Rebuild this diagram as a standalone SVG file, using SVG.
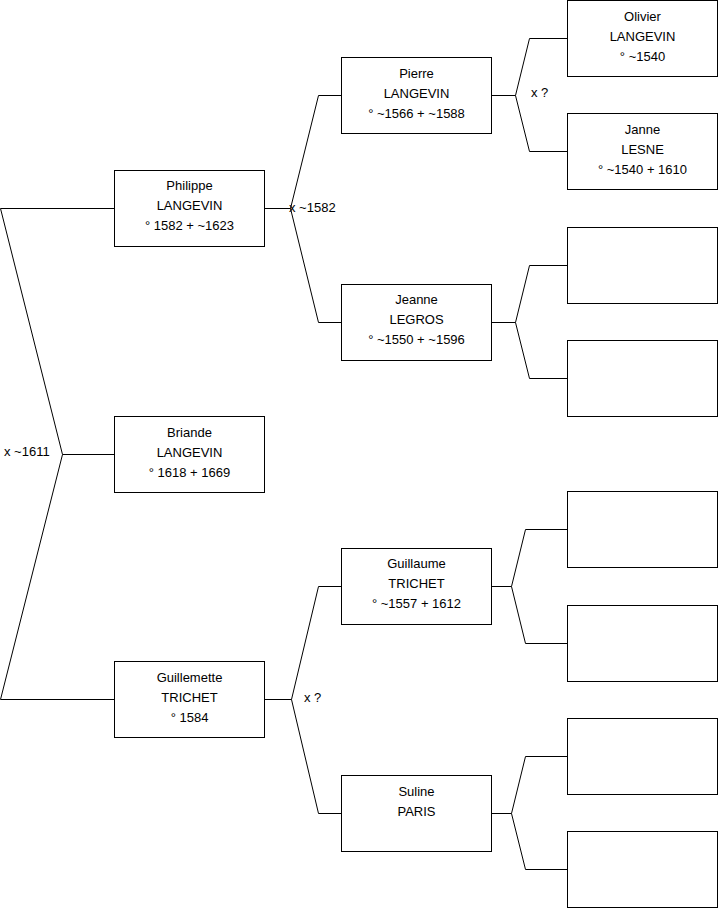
<svg xmlns="http://www.w3.org/2000/svg" width="719" height="908" viewBox="0 0 719 908">
<style>
.box{fill:#fff;stroke:#000;stroke-width:1}
.ln{fill:none;stroke:#000;stroke-width:1}
text{font-family:"Liberation Sans",Arial,sans-serif;font-size:13px;fill:#000}
.c{text-anchor:middle}
</style>
<rect width="719" height="908" fill="#fff"/>
<g id="connectors">
<polyline class="ln" points="114,208.5 0.5,208.5 62.5,454.5 0.5,699.5 114,699.5"/>
<line class="ln" x1="62.5" y1="454.5" x2="114" y2="454.5"/>
<polyline class="ln" points="341,95.5 318.5,95.5 290.5,208.5 318.5,322.5 341,322.5"/>
<line class="ln" x1="265" y1="208.5" x2="290.5" y2="208.5"/>
<polyline class="ln" points="341,586.5 318.5,586.5 291.5,699.5 318.5,813.5 341,813.5"/>
<line class="ln" x1="265" y1="699.5" x2="291.5" y2="699.5"/>
<polyline class="ln" points="567,38.5 529.5,38.5 515.5,95.5 529.5,151.5 567,151.5"/>
<line class="ln" x1="492" y1="95.5" x2="515.5" y2="95.5"/>
<polyline class="ln" points="567,265.5 529.5,265.5 515.5,322.5 529.5,378.5 567,378.5"/>
<line class="ln" x1="492" y1="322.5" x2="515.5" y2="322.5"/>
<polyline class="ln" points="567,529.5 525.5,529.5 511.5,586.5 525.5,643.5 567,643.5"/>
<line class="ln" x1="492" y1="586.5" x2="511.5" y2="586.5"/>
<polyline class="ln" points="567,756.5 525.5,756.5 511.5,813.5 525.5,869.5 567,869.5"/>
<line class="ln" x1="492" y1="813.5" x2="511.5" y2="813.5"/>
<text x="4" y="456">x ~1611</text>
<text x="289" y="212">x ~1582</text>
<text x="531" y="97">x ?</text>
<text x="304" y="702">x ?</text>
</g>
<g id="philippe"><rect class="box" x="114.5" y="170.5" width="150" height="76"/>
<text class="c" x="189.5" y="190">Philippe</text><text class="c" x="189.5" y="210">LANGEVIN</text><text class="c" x="189.5" y="230">° 1582 + ~1623</text></g>
<g id="briande"><rect class="box" x="114.5" y="416.5" width="150" height="76"/>
<text class="c" x="189.5" y="437">Briande</text><text class="c" x="189.5" y="457">LANGEVIN</text><text class="c" x="189.5" y="477">° 1618 + 1669</text></g>
<g id="guillemette"><rect class="box" x="114.5" y="661.5" width="150" height="76"/>
<text class="c" x="189.5" y="682">Guillemette</text><text class="c" x="189.5" y="702">TRICHET</text><text class="c" x="189.5" y="722">° 1584</text></g>
<g id="pierre"><rect class="box" x="341.5" y="57.5" width="150" height="76"/>
<text class="c" x="416.5" y="78">Pierre</text><text class="c" x="416.5" y="98">LANGEVIN</text><text class="c" x="416.5" y="118">° ~1566 + ~1588</text></g>
<g id="jeanne"><rect class="box" x="341.5" y="284.5" width="150" height="76"/>
<text class="c" x="416.5" y="304">Jeanne</text><text class="c" x="416.5" y="324">LEGROS</text><text class="c" x="416.5" y="344">° ~1550 + ~1596</text></g>
<g id="guillaume"><rect class="box" x="341.5" y="548.5" width="150" height="76"/>
<text class="c" x="416.5" y="568">Guillaume</text><text class="c" x="416.5" y="588">TRICHET</text><text class="c" x="416.5" y="608">° ~1557 + 1612</text></g>
<g id="suline"><rect class="box" x="341.5" y="775.5" width="150" height="76"/>
<text class="c" x="416.5" y="796">Suline</text><text class="c" x="416.5" y="816">PARIS</text></g>
<g id="olivier"><rect class="box" x="567.5" y="0.5" width="150" height="76"/>
<text class="c" x="642.5" y="21">Olivier</text><text class="c" x="642.5" y="41">LANGEVIN</text><text class="c" x="642.5" y="61">° ~1540</text></g>
<g id="janne"><rect class="box" x="567.5" y="113.5" width="150" height="76"/>
<text class="c" x="642.5" y="134">Janne</text><text class="c" x="642.5" y="154">LESNE</text><text class="c" x="642.5" y="174">° ~1540 + 1610</text></g>
<g id="empty1"><rect class="box" x="567.5" y="227.5" width="150" height="76"/></g>
<g id="empty2"><rect class="box" x="567.5" y="340.5" width="150" height="76"/></g>
<g id="empty3"><rect class="box" x="567.5" y="491.5" width="150" height="76"/></g>
<g id="empty4"><rect class="box" x="567.5" y="605.5" width="150" height="76"/></g>
<g id="empty5"><rect class="box" x="567.5" y="718.5" width="150" height="76"/></g>
<g id="empty6"><rect class="box" x="567.5" y="831.5" width="150" height="76"/></g>
</svg>
